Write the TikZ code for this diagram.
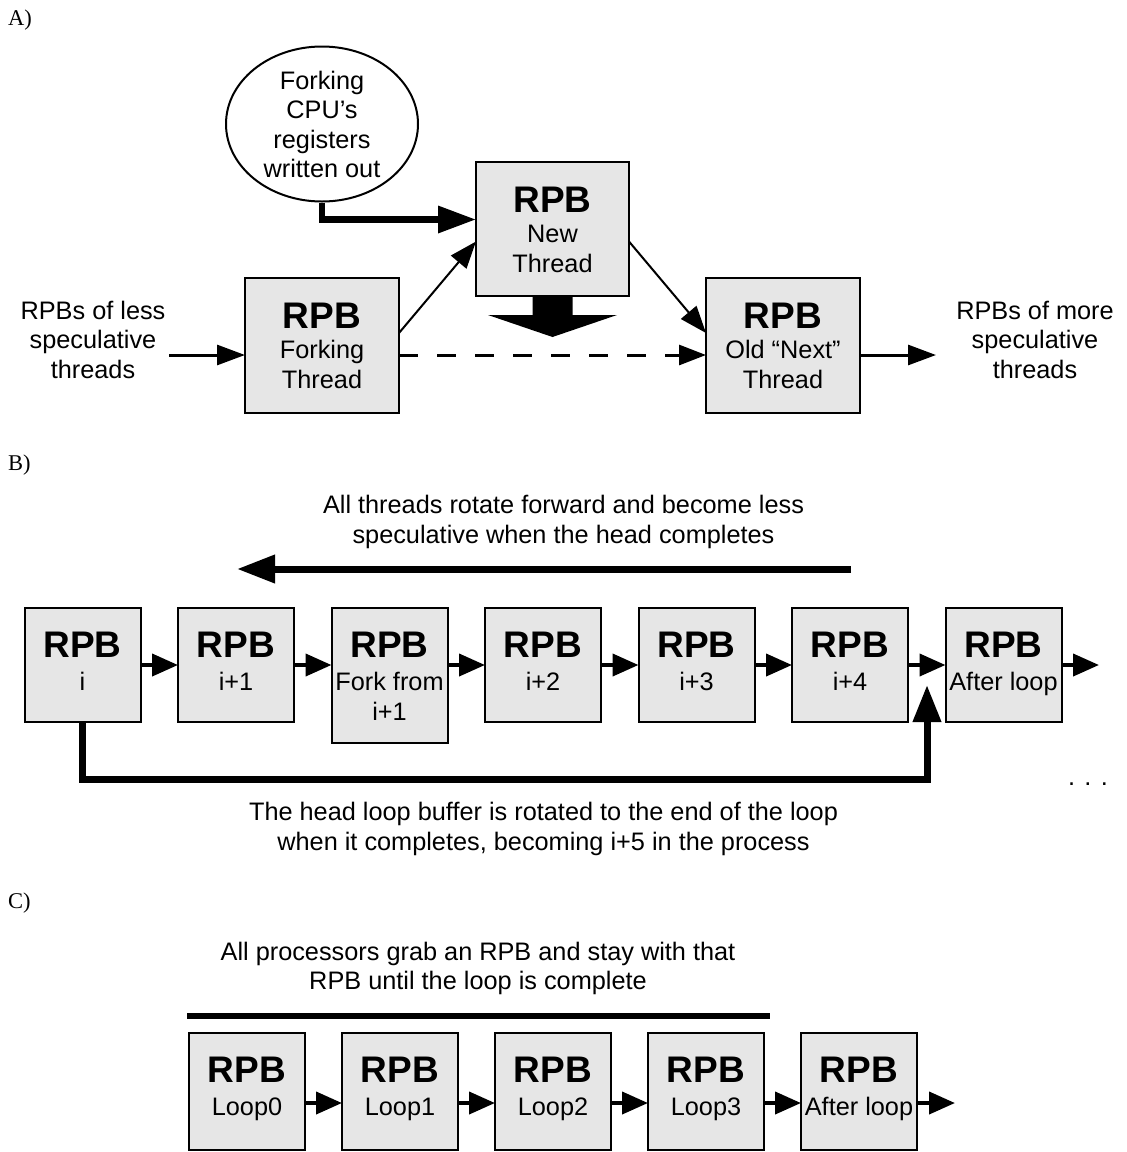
\documentclass[tikz,border=0pt]{standalone}
\usepackage{fontspec}
\setmainfont{Liberation Sans}
\newfontfamily\partfont{Liberation Serif}
\usetikzlibrary{arrows.meta,shapes.geometric}
\definecolor{boxfill}{RGB}{230,230,230}

\tikzset{
  rpbbox/.style={draw=black, line width=2pt, fill=boxfill, inner sep=0pt,
    outer sep=0pt, anchor=north west},
  rpbtitle/.style={font=\fontsize{37}{42}\selectfont\bfseries, inner sep=0pt, anchor=base},
  body/.style={font=\fontsize{25.3}{30}\selectfont, inner sep=0pt, anchor=base},
  partlabel/.style={font=\partfont\fontsize{22.5}{26}\selectfont, inner sep=0pt, anchor=base west},
  thinarrow/.style={line width=2pt, -{Triangle[length=27pt,width=20pt]}},
  flowarrow/.style={line width=3pt, -{Triangle[length=28pt,width=20pt]}},
  dasharrow/.style={line width=3pt, dash pattern=on 19pt off 19pt,
    -{Triangle[length=27pt,width=20pt]}},
  linkarrow/.style={line width=4pt, -{Triangle[length=26pt,width=22pt]}},
  heavybar/.style={line width=6pt},
}

\begin{document}
\begin{tikzpicture}[x=1pt,y=-1pt]
\useasboundingbox (0,0) rectangle (1127,1152);

%% ---------- Part A: forking a new thread ----------
\node[partlabel] (labA) at (8,25) {A)};

\node[draw=black, line width=2pt, ellipse, fill=white, inner sep=0pt,
      minimum width=192pt, minimum height=155pt] (cpu) at (322,124) {};
\node[body] (cpu-1) at (322,89.5) {Forking};
\node[body] (cpu-2) at (322,118.5) {CPU’s};
\node[body] (cpu-3) at (322,148) {registers};
\node[body] (cpu-4) at (322,177) {written out};

\node[rpbbox, minimum width=154pt, minimum height=135pt] (fork) at (245,278) {};
\node[rpbtitle] (fork-t) at (322,328) {RPB};
\node[body] (fork-1) at (322,358) {Forking};
\node[body] (fork-2) at (322,388) {Thread};

\node[rpbbox, minimum width=153pt, minimum height=134pt] (newt) at (476,162) {};
\node[rpbtitle] (newt-t) at (552.5,212) {RPB};
\node[body] (newt-1) at (552.5,242) {New};
\node[body] (newt-2) at (552.5,272) {Thread};

\node[rpbbox, minimum width=154pt, minimum height=135pt] (old) at (706,278) {};
\node[rpbtitle] (old-t) at (783,328) {RPB};
\node[body] (old-1) at (783,358) {Old “Next”};
\node[body] (old-2) at (783,388) {Thread};

\node[body] (less-1) at (93,319) {RPBs of less};
\node[body] (less-2) at (93,348) {speculative};
\node[body] (less-3) at (93,378) {threads};

\node[body] (more-1) at (1035,319) {RPBs of more};
\node[body] (more-2) at (1035,348) {speculative};
\node[body] (more-3) at (1035,378) {threads};

\coordinate (lessin) at (169,355);
\coordinate (moreout) at (936,355);

\draw[flowarrow] (lessin) -- (lessin -| fork.west);
\draw[dasharrow] (fork.east |- lessin) -- (old.west |- lessin);
\draw[flowarrow] (old.east |- lessin) -- (moreout);

\draw[thinarrow] ([yshift=12.5pt]fork.east) -- ([yshift=-12.5pt]newt.west);
\draw[thinarrow] ([yshift=-12.5pt]newt.east) -- ([yshift=12.5pt]old.west);

\draw[line width=6.5pt, -{Triangle[length=38pt,width=26pt]}]
  (cpu.south) |- ([yshift=9.5pt]newt.west);

% block arrow below the new thread
\fill[black] (newt.south) ++(-20,0) -- ++(0,19) -- ++(-44.5,0) -- ++(64.5,22)
  -- ++(64.5,-22) -- ++(-44.5,0) -- ++(0,-19) -- cycle;

%% ---------- Part B: rotating loop buffers ----------
\node[partlabel] (labB) at (8,470) {B)};

\node[body] (rot-1) at (563.5,513) {All threads rotate forward and become less};
\node[body] (rot-2) at (563.5,543) {speculative when the head completes};
\coordinate (rotR) at (851,569);
\coordinate (rotL) at (237,569);
\draw[line width=7pt, -{Triangle[length=38pt,width=27pt]}] (rotR) -- (rotL);

\node[rpbbox, minimum width=116pt, minimum height=114pt] (b0) at (24.5,608) {};
\node[rpbbox, minimum width=116pt, minimum height=114pt] (b1) at (178,608) {};
\node[rpbbox, minimum width=116pt, minimum height=135pt] (b2) at (331.5,608) {};
\node[rpbbox, minimum width=116pt, minimum height=114pt] (b3) at (485,608) {};
\node[rpbbox, minimum width=116pt, minimum height=114pt] (b4) at (638.5,608) {};
\node[rpbbox, minimum width=116pt, minimum height=114pt] (b5) at (792,608) {};
\node[rpbbox, minimum width=116pt, minimum height=114pt] (b6) at (945.5,608) {};

\foreach \n/\cx in {b0/82.5, b1/236, b2/389.5, b3/543, b4/696.5, b5/850, b6/1003.5}
  \node[rpbtitle] (\n-t) at (\cx,657) {RPB};
\node[body] (b0-1) at (82.5,690) {i};
\node[body] (b1-1) at (236,690) {i+1};
\node[body] (b2-1) at (389.5,690) {Fork from};
\node[body] (b2-2) at (389.5,720) {i+1};
\node[body] (b3-1) at (543,690) {i+2};
\node[body] (b4-1) at (696.5,690) {i+3};
\node[body] (b5-1) at (850,690) {i+4};
\node[body] (b6-1) at (1003.5,690) {After loop};

\draw[linkarrow] (b0.east) -- (b1.west);
\draw[linkarrow] (b1.east) -- (b1.east -| b2.west);
\draw[linkarrow] (b2.east |- b1.east) -- (b3.west);
\draw[linkarrow] (b3.east) -- (b4.west);
\draw[linkarrow] (b4.east) -- (b5.west);
\draw[linkarrow] (b5.east) -- (b6.west);
\coordinate (bout) at (1099,665);
\draw[linkarrow] (b6.east) -- (bout);

\coordinate (looptip) at (927,685);
\draw[line width=7pt, -{Triangle[length=37pt,width=27pt]}]
  (b0.south) -- ++(0,57) -| (looptip);

\node[body] (dots) at (1088,785) {. . .};

\node[body] (head-1) at (543.5,820) {The head loop buffer is rotated to the end of the loop};
\node[body] (head-2) at (543.5,850) {when it completes, becoming i+5 in the process};

%% ---------- Part C: processors stay with their buffers ----------
\node[partlabel] (labC) at (8,908) {C)};

\node[body] (grab-1) at (478,960) {All processors grab an RPB and stay with that};
\node[body] (grab-2) at (478,989) {RPB until the loop is complete};
\coordinate (barL) at (187,1016);
\coordinate (barR) at (770,1016);
\draw[heavybar] (barL) -- (barR);

\node[rpbbox, minimum width=116pt, minimum height=117pt] (c0) at (189,1033) {};
\node[rpbbox, minimum width=116pt, minimum height=117pt] (c1) at (342,1033) {};
\node[rpbbox, minimum width=116pt, minimum height=117pt] (c2) at (495,1033) {};
\node[rpbbox, minimum width=116pt, minimum height=117pt] (c3) at (648,1033) {};
\node[rpbbox, minimum width=116pt, minimum height=117pt] (c4) at (801,1033) {};

\foreach \n/\cx in {c0/247, c1/400, c2/553, c3/706, c4/859}
  \node[rpbtitle] (\n-t) at (\cx,1082) {RPB};
\node[body] (c0-1) at (247,1115) {Loop0};
\node[body] (c1-1) at (400,1115) {Loop1};
\node[body] (c2-1) at (553,1115) {Loop2};
\node[body] (c3-1) at (706,1115) {Loop3};
\node[body] (c4-1) at (859,1115) {After loop};

\coordinate (cout) at (955,1103);
\draw[linkarrow] ([yshift=-11.5pt]c0.east) -- ([yshift=-11.5pt]c1.west);
\draw[linkarrow] ([yshift=-11.5pt]c1.east) -- ([yshift=-11.5pt]c2.west);
\draw[linkarrow] ([yshift=-11.5pt]c2.east) -- ([yshift=-11.5pt]c3.west);
\draw[linkarrow] ([yshift=-11.5pt]c3.east) -- ([yshift=-11.5pt]c4.west);
\draw[linkarrow] ([yshift=-11.5pt]c4.east) -- (cout);
\end{tikzpicture}
\end{document}
